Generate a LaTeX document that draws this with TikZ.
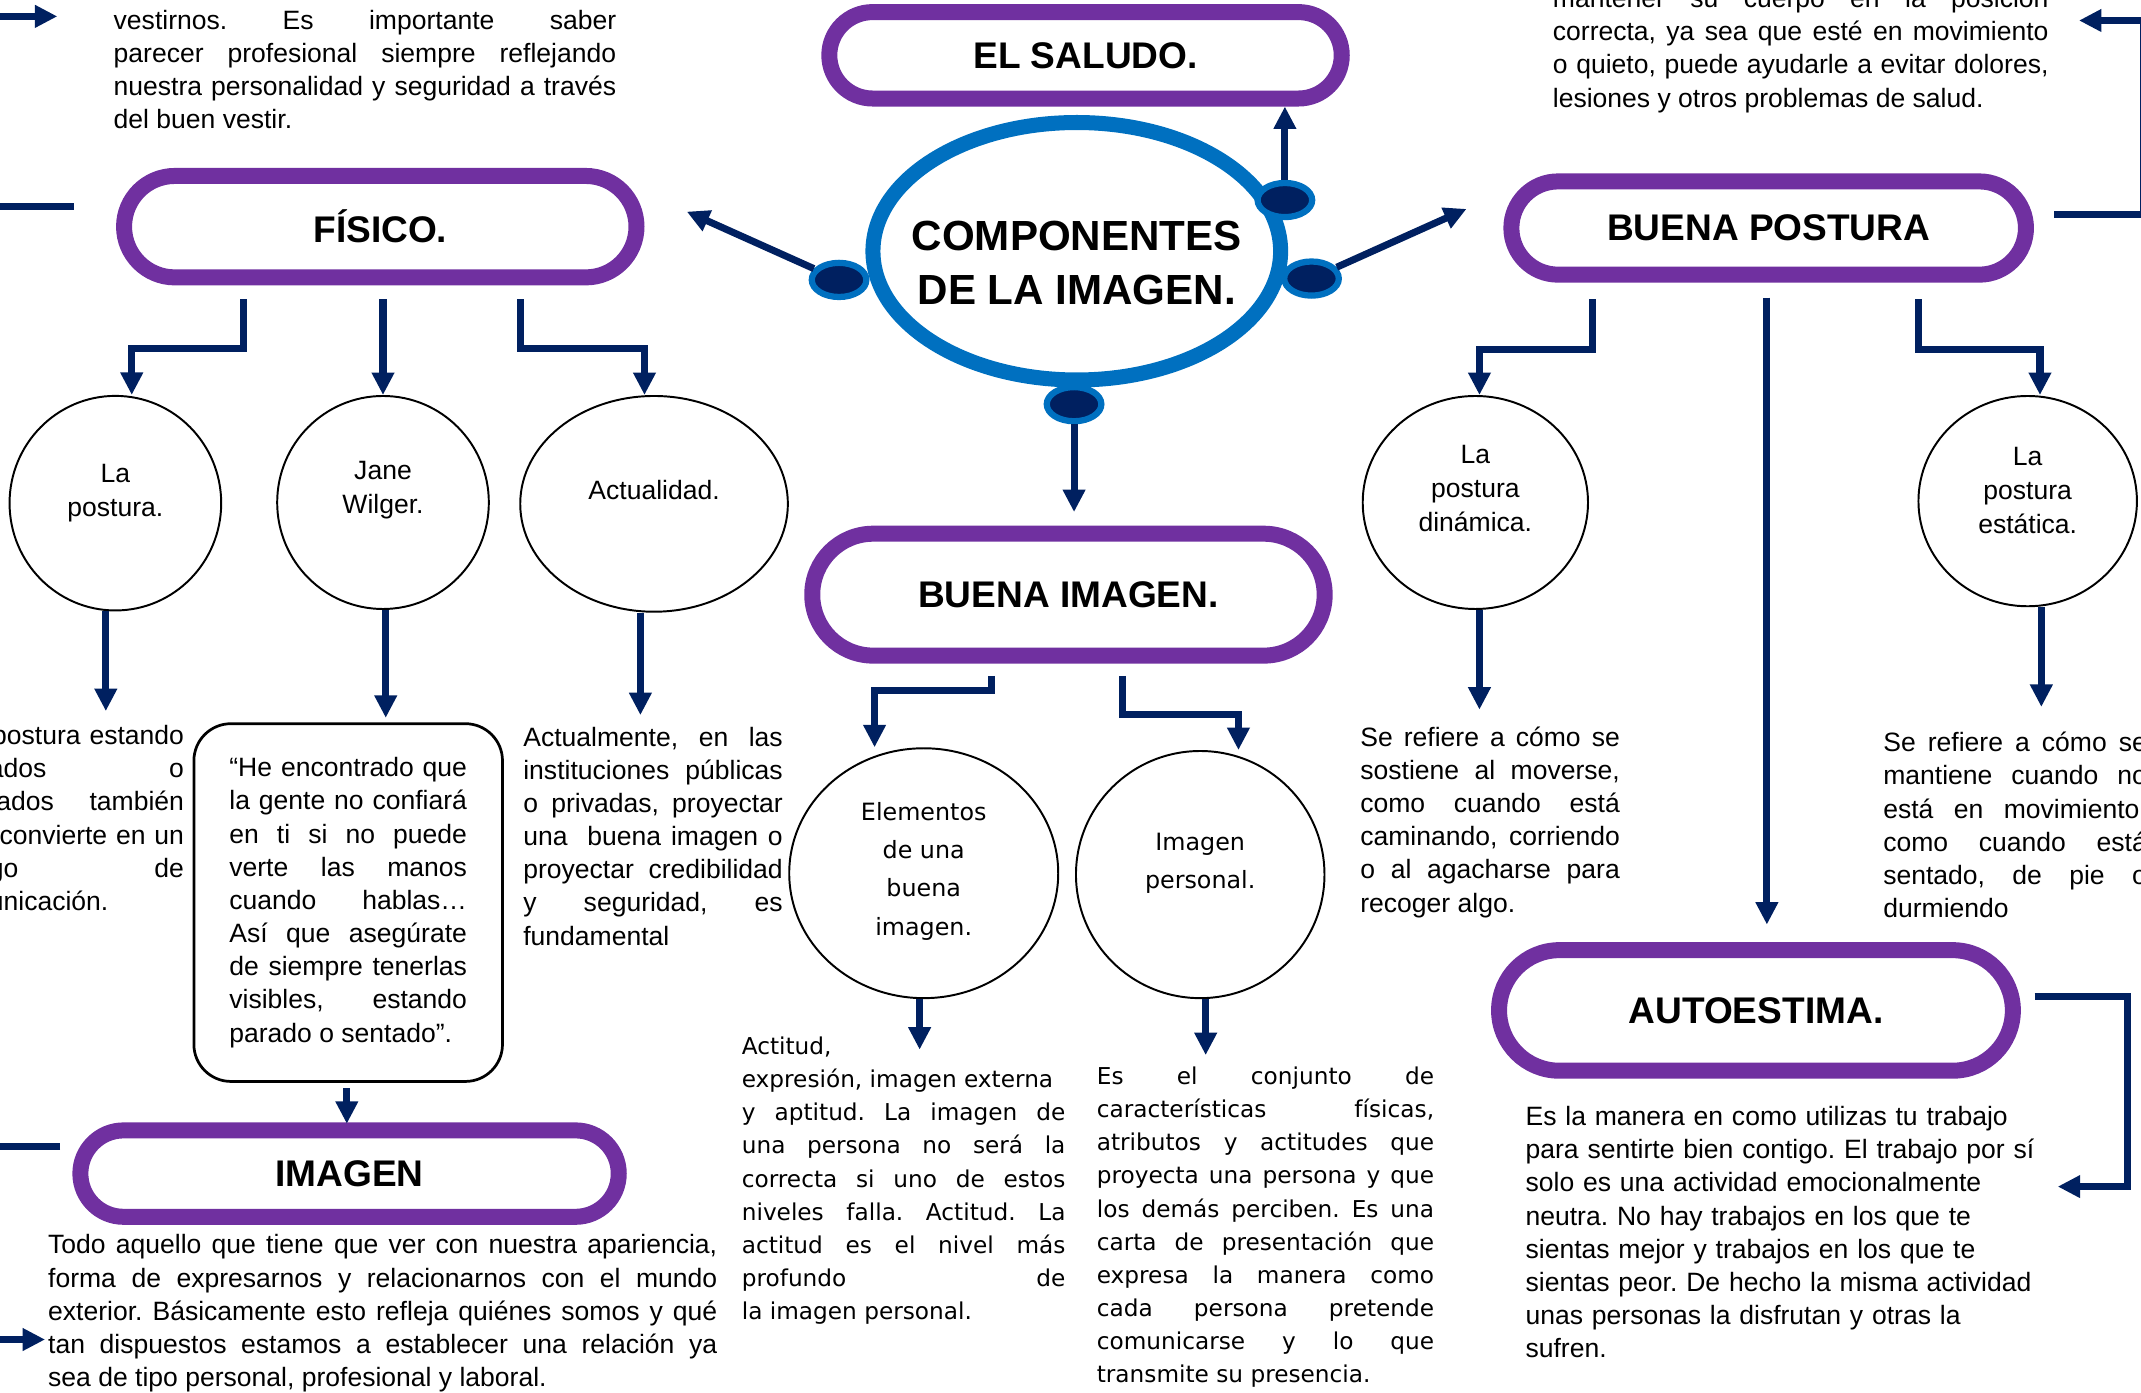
\documentclass[tikz,border=0pt]{standalone}
\usepackage{fontspec}
\setmainfont{Liberation Sans}
\newfontfamily\dejavu{DejaVu Sans}
\usepackage{tikz}
\usetikzlibrary{positioning,shapes.geometric,shapes.misc,arrows.meta}
\definecolor{morado}{RGB}{112,48,160}
\definecolor{azul}{RGB}{0,112,192}
\definecolor{marino}{RGB}{0,32,96}
\frenchspacing
\hyphenpenalty=10000
\exhyphenpenalty=10000
\tolerance=9999
\hbadness=10000
\newcommand{\txtfont}{\fontsize{13.6}{17}\selectfont}
\newcommand{\dvfont}{\dejavu\fontsize{11.9}{17}\selectfont}
\newcommand{\circfont}{\fontsize{13.6}{17.5}\selectfont}
\newcommand{\dvcircfont}{\dejavu\fontsize{12.2}{19.6}\selectfont}
\newcommand{\titfont}{\bfseries\fontsize{19}{22}\selectfont}

\begin{document}
\begin{tikzpicture}[x=0.7pt, y=-0.7pt,
  pill/.style={rounded rectangle, draw=morado, line width=8.2pt, fill=white, inner sep=0pt, font=\titfont},
  circulo/.style={ellipse, draw=black, line width=1pt, inner sep=0pt},
  ctexto/.style={align=center, font=\circfont},
  punto/.style={ellipse, fill=marino, draw=azul, line width=3.2pt, minimum width=28pt, minimum height=17.5pt, inner sep=0pt},
  flecha/.style={draw=marino, line width=3.6pt, -{Triangle[length=11.5pt,width=11pt]}},
  linea/.style={draw=marino, line width=3.6pt},
  texto/.style={anchor=north west, inner sep=0pt, align=justify, font=\txtfont}]
\useasboundingbox (0,0) rectangle (1568,1020);
\clip (0,0) rectangle (1568,1020);

% Centro
\node[ellipse, draw=azul, line width=7.7pt, minimum width=209pt, minimum height=132pt, inner sep=0pt,
  label={[align=center, font=\bfseries\fontsize{21.6}{27.3}\selectfont, yshift=-6pt]center:COMPONENTES\\DE LA IMAGEN.}] (comp) at (788.6,184) {};
\node[punto] (dizq) at (614.5,205) {};
\node[punto] (dsup) at (941,146.5) {};
\node[punto] (dder) at (960.5,204) {};
\node[punto] (dinf) at (786.6,296) {};

% Titulos
\node[pill, minimum width=262.7pt, minimum height=44.3pt] (saludo) at (795,40.5) {EL SALUDO.};
\node[pill, minimum width=262.7pt, minimum height=52pt] (fisico) at (278.5,166) {FÍSICO.};
\node[pill, minimum width=263.8pt, minimum height=47.8pt] (bpost) at (1295.3,167) {BUENA POSTURA};
\node[pill, minimum width=262.7pt, minimum height=62.5pt] (bimagen) at (782.5,435.5) {BUENA IMAGEN.};
\node[pill, minimum width=276pt, minimum height=44.3pt] (imagen) at (256,859.5) {IMAGEN};
\node[pill, minimum width=263.4pt, minimum height=61.8pt] (autoest) at (1286,740) {AUTOESTIMA.};

% Circulos
\node[circulo, minimum width=108.5pt, minimum height=110pt, label={[ctexto, yshift=5.3pt]center:La\\postura.}] (lapost) at (84.5,368.5) {};
\node[circulo, minimum width=108.5pt, minimum height=109.2pt, label={[ctexto, yshift=6.3pt]center:Jane\\Wilger.}] (jane) at (280.5,368) {};
\node[circulo, minimum width=137.2pt, minimum height=110.6pt, label={[ctexto, yshift=7pt]center:Actualidad.}] (actual) at (479,369) {};
\node[circulo, minimum width=137.9pt, minimum height=128.1pt, label={[align=center, font=\dvcircfont, yshift=1pt]center:Elementos\\de una\\buena\\imagen.}] (elem) at (676.5,639.5) {};
\node[circulo, minimum width=127.4pt, minimum height=126.7pt, label={[align=center, font=\dvcircfont, yshift=5.6pt]center:Imagen\\personal.}] (pers) at (879,640.5) {};
\node[circulo, minimum width=115.5pt, minimum height=109.2pt, label={[ctexto, yshift=7pt]center:La\\postura\\dinámica.}] (dinam) at (1080.5,368) {};
\node[circulo, minimum width=112pt, minimum height=107.8pt, label={[ctexto, yshift=5.6pt]center:La\\postura\\estática.}] (estat) at (1485,367) {};

% Textos
\node[texto, text width=257.6pt] (txtfisico) at (83,7) {vestirnos. Es importante saber\linebreak
  parecer profesional siempre reflejando\linebreak
  nuestra personalidad y seguridad a través\linebreak
  del buen vestir.};
\node[texto, text width=254.1pt] (txtbpost) at (1137,-9) {mantener su cuerpo en la posición\linebreak
  correcta, ya sea que esté en movimiento\linebreak
  o quieto, puede ayudarle a evitar dolores,\linebreak
  lesiones y otros problemas de salud.};
\node[texto, anchor=north east, align=right, text width=100pt] (txtlapost) at (135,531) {postura estando\\
  ados\hfill o\\
  tados\hfill también\\
  convierte en un\\
  go\hfill de\\
  unicación.\hfill\null};
\node[draw=black, line width=1.4pt, rounded corners=19pt, text width=121.8pt, minimum height=183.4pt,
  inner xsep=18.2pt, align=justify, font=\txtfont] (cita) at (255,661) {“He encontrado que\linebreak
  la gente no confiará\linebreak
  en ti si no puede\linebreak
  verte las manos\linebreak
  cuando hablas…\linebreak
  Así que asegúrate\linebreak
  de siempre tenerlas\linebreak
  visibles, estando\linebreak
  parado o sentado”.};
\node[texto, text width=133pt] (txtactual) at (383,532) {Actualmente, en las\linebreak
  instituciones públicas\linebreak
  o privadas, proyectar\linebreak
  una~ buena imagen o\linebreak
  proyectar credibilidad\linebreak
  y seguridad, es\linebreak
  fundamental};
\node[texto, text width=343pt] (txtimagen) at (35,904) {Todo aquello que tiene que ver con nuestra apariencia,\linebreak
  forma de expresarnos y relacionarnos con el mundo\linebreak
  exterior. Básicamente esto refleja quiénes somos y qué\linebreak
  tan dispuestos estamos a establecer una relación ya\linebreak
  sea de tipo personal, profesional y laboral.};
\node[texto, font=\dvfont, text width=165.9pt] (txtelem) at (543,759) {Actitud,\\
  expresión, imagen externa\\
  y aptitud. La imagen de\linebreak
  una persona no será la\linebreak
  correcta si uno de estos\linebreak
  niveles falla. Actitud. La\linebreak
  actitud es el nivel más\linebreak
  profundo de\linebreak
  la imagen personal.};
\node[texto, font=\dvfont, text width=172.9pt] (txtpers) at (803,781) {Es el conjunto de\linebreak
  características físicas,\linebreak
  atributos y actitudes que\linebreak
  proyecta una persona y que\linebreak
  los demás perciben. Es una\linebreak
  carta de presentación que\linebreak
  expresa la manera como\linebreak
  cada persona pretende\linebreak
  comunicarse y lo que\linebreak
  transmite su presencia.};
\node[texto, text width=133pt] (txtdin) at (996,532) {Se refiere a cómo se\linebreak
  sostiene al moverse,\linebreak
  como cuando está\linebreak
  caminando, corriendo\linebreak
  o al agacharse para\linebreak
  recoger algo.};
\node[texto, text width=135.1pt] (txtest) at (1379,536) {Se refiere a cómo se\linebreak
  mantiene cuando no\linebreak
  está en movimiento,\linebreak
  como cuando está\linebreak
  sentado, de pie o\linebreak
  durmiendo};
\node[texto, align=left, text width=266pt] (txtauto) at (1117,810) {Es la manera en como utilizas tu trabajo\\
  para sentirte bien contigo. El trabajo por sí\\
  solo es una actividad emocionalmente\\
  neutra. No hay trabajos en los que te\\
  sientas mejor y trabajos en los que te\\
  sientas peor. De hecho la misma actividad\\
  unas personas la disfrutan y otras la\\
  sufren.};

% Conectores del centro
\draw[flecha] (dizq) -- ([shift={(31,-11)}]fisico.east);
\draw[flecha] (dsup) -- (dsup |- saludo.south);
\draw[flecha] (dder) -- ([shift={(-27,-14)}]bpost.west);
\draw[flecha, shorten >=7pt] (dinf) -- (dinf |- bimagen.north);

% Ramas de FISICO
\draw[flecha] (fisico.south) ++(-100,10) -- ++(0,36) -| ([shift={(12,0)}]lapost.north);
\draw[flecha] (fisico.south -| jane.north) ++(0,10) -- (jane.north);
\draw[flecha] (fisico.south) ++(102.5,10) -- ++(0,36) -| ([shift={(-7,0)}]actual.north);
\draw[flecha] (lapost.south) ++(-7,0) -- ++(0,73);
\draw[flecha] (jane.south) ++(2,0) -- ++(0,79);
\draw[flecha] (actual.south) ++(-10,0) -- ++(0,75);
\draw[flecha] (cita.south) ++(-1,4) -- ++(0,26);
\draw[linea] (fisico.west) ++(-31,-15) -- ++(-80,0);
\draw[flecha] (txtfisico.north west) ++(-110,5) -- ++(69,0);

% IMAGEN
\draw[linea] (imagen.west) ++(-9,-19.5) -- ++(-80,0);
\draw[flecha] (txtimagen.north west) ++(-80,77) -- ++(78,0);

% Ramas de BUENA IMAGEN
\draw[flecha] (bimagen.south) ++(-56.5,9) -- ++(0,11) -| ([shift={(-36,0)}]elem.north);
\draw[flecha] (bimagen.south) ++(39.5,9) -- ++(0,28) -| ([shift={(28,0)}]pers.north);
\draw[flecha] (elem.south) ++(-3,0) -- ++(0,37);
\draw[flecha] (pers.south) ++(4,0) -- ++(0,41);

% Ramas de BUENA POSTURA
\draw[flecha] (bpost.south) ++(-129.3,12) -- ++(0,37) -| ([shift={(3,0)}]dinam.north);
\draw[flecha, shorten >=9pt] (bpost.south) ++(-1.3,11) coordinate (p0) -- (p0 |- autoest.north);
\draw[flecha] (bpost.south) ++(109.7,12) -- ++(0,37) -| ([shift={(9,0)}]estat.north);
\draw[flecha] (dinam.south) ++(3,0) -- ++(0,73);
\draw[flecha] (estat.south) ++(10,0) -- ++(0,73);
\draw[flecha] (bpost.east) ++(15,-10) -- ++(65,0) -- ++(0,-142) -- ++(-47,0);

% AUTOESTIMA
\draw[flecha] (autoest.east) ++(10,-10.5) -- ++(68,0) -- ++(0,139.5) -- ++(-51,0);
\end{tikzpicture}
\end{document}
